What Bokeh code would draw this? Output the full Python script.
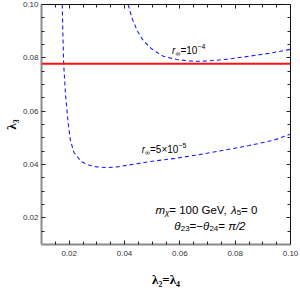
from bokeh.plotting import figure
from bokeh.models import Range1d, LinearAxis, FixedTicker, NumeralTickFormatter, Span
from bokeh.core.properties import value
from bokeh.embed import file_html
from bokeh.resources import INLINE

# ---------------- data ----------------
x_limits = (0.01, 0.10)
y_limits = (0.01, 0.10)
major_ticks = [0.02, 0.04, 0.06, 0.08, 0.10]
minor_ticks = [0.015, 0.025, 0.03, 0.035, 0.045, 0.05, 0.055, 0.065, 0.07, 0.075, 0.085, 0.09, 0.095]

red_lambda3 = 0.0778

# r_inf = 1e-4 contour
r1_lambda2 = [0.0413, 0.0428, 0.0447, 0.0468, 0.0499, 0.0540, 0.0588, 0.0636, 0.0665, 0.0700,
              0.0773, 0.0850, 0.0930, 0.1000]
r1_lambda3 = [0.1000, 0.0946, 0.0900, 0.0864, 0.0833, 0.0806, 0.0794, 0.0788, 0.0787, 0.0788,
              0.0795, 0.0806, 0.0818, 0.0832]

# r_inf = 5e-5 contour
r2_lambda2 = [0.0175, 0.0177, 0.0180, 0.0187, 0.0196, 0.0204, 0.0217, 0.0243, 0.0270, 0.0300,
              0.0338, 0.0380, 0.0433, 0.0493, 0.0582, 0.0671, 0.0761, 0.0850, 0.0939, 0.1000]
r2_lambda3 = [0.1000, 0.0900, 0.0780, 0.0660, 0.0560, 0.0493, 0.0446, 0.0411, 0.0398, 0.0391,
              0.0388, 0.0392, 0.0401, 0.0411, 0.0423, 0.0437, 0.0454, 0.0471, 0.0491, 0.0514]

x_title = "\u03bb\u2082=\u03bb\u2084"
y_title = "\u03bb\u2083"

# text pieces: (text, kind) kind: n=normal, i=italic, b=subscript, p=superscript, bi=italic subscript
label_r1 = [("r", "i"), ("\u221e", "b"), ("=10", "n"), ("\u22124", "p")]
label_r2 = [("r", "i"), ("\u221e", "b"), ("=5\u00d710", "n"), ("\u22125", "p")]
note_1 = [("m", "i"), ("\u03c7", "bi"), ("= 100 GeV, ", "n"), ("\u03bb", "i"), ("5", "b"), ("= 0", "n")]
note_2 = [("\u03b8", "i"), ("23", "b"), ("=\u2212", "n"), ("\u03b8", "i"), ("24", "b"), ("= ", "n"),
          ("\u03c0/2", "i")]

# ---------------- figure ----------------
p = figure(frame_width=249, frame_height=240,
           x_range=Range1d(*x_limits), y_range=Range1d(*y_limits),
           output_backend="svg", toolbar_location=None,
           min_border_left=34, min_border_right=9, min_border_top=4, min_border_bottom=42)
p.grid.visible = False
p.outline_line_color = None
p.background_fill_color = "white"
p.border_fill_color = "white"

FONT = "Liberation Sans"


def style_axis(ax, line_color, line_width, show_labels):
    ax.ticker = FixedTicker(ticks=major_ticks, minor_ticks=minor_ticks)
    ax.formatter = NumeralTickFormatter(format="0.00")
    ax.axis_line_color = line_color
    ax.axis_line_width = line_width
    ax.major_tick_in = 4
    ax.major_tick_out = 0
    ax.minor_tick_in = 3
    ax.minor_tick_out = 0
    ax.major_tick_line_color = "#222222"
    ax.minor_tick_line_color = "#222222"
    ax.major_tick_line_width = 1
    ax.minor_tick_line_width = 1
    if show_labels:
        ax.major_label_text_font = FONT
        ax.major_label_text_font_size = "8px"
        ax.major_label_text_color = "#333333"
    else:
        ax.major_label_text_color = None
        ax.major_label_text_alpha = 0
        ax.major_label_text_font_size = "1px"
        ax.major_label_standoff = 0


xa = p.xaxis[0]
ya = p.yaxis[0]
style_axis(xa, "#8a8a8a", 2, True)
style_axis(ya, "#8a8a8a", 2, True)
xa.major_label_standoff = 6
ya.major_label_standoff = 3
xa.axis_label = x_title
ya.axis_label = y_title
for ax in (xa, ya):
    ax.axis_label_text_font = "Liberation Serif"
    ax.axis_label_text_font_style = "bold"
    ax.axis_label_text_font_size = "13px"
    ax.axis_label_text_color = "black"
xa.axis_label_standoff = 13
ya.axis_label_standoff = 1

top_ax = LinearAxis()
right_ax = LinearAxis()
style_axis(top_ax, "#111111", 1, False)
style_axis(right_ax, "#111111", 1, False)
p.add_layout(top_ax, "above")
p.add_layout(right_ax, "right")

# ---------------- marks ----------------
p.add_layout(Span(location=red_lambda3, dimension="width", line_color="#ff1010", line_width=2))

p.line(r1_lambda2, r1_lambda3, line_color="#1a1aff", line_width=1.1, line_dash="4 3")
p.line(r2_lambda2, r2_lambda3, line_color="#1a1aff", line_width=1.1, line_dash="4 3")

# approximate advance widths (em) for the glyphs used in the annotations
EM = {"m": .833, "\u03c7": .52, "=": .584, " ": .278, "G": .778, "e": .556, "V": .667, ",": .278,
      "\u03bb": .5, "\u03b8": .556, "\u2212": .584, "\u03c0": .58, "/": .278, "r": .333,
      "\u221e": .713, "\u00d7": .584}


def advance(txt, size):
    return sum(EM.get(c, .556) for c in txt) * size


def rich_text(x, y, pieces, base, small):
    dx = 0.0
    for txt, kind in pieces:
        size = small if kind in ("b", "p", "bi") else base
        dy = 2.5 if kind in ("b", "bi") else (-4.5 if kind == "p" else 0)
        style = "italic" if kind in ("i", "bi") else "normal"
        p.text(x=[x], y=[y], text=[txt], x_offset=dx, y_offset=dy,
               text_font=value(FONT), text_font_style=style, text_font_size=f"{size}px",
               text_baseline="alphabetic", text_align="left", text_color="black")
        dx += advance(txt, size)


rich_text(0.0572, 0.0826, label_r1, 10.0, 7.0)
rich_text(0.0462, 0.0456, label_r2, 10.0, 7.0)
rich_text(0.0512, 0.0228, note_1, 11.5, 8.0)
rich_text(0.0580, 0.0168, note_2, 11.5, 8.0)

open("out.html", "w").write(file_html(p, INLINE))
